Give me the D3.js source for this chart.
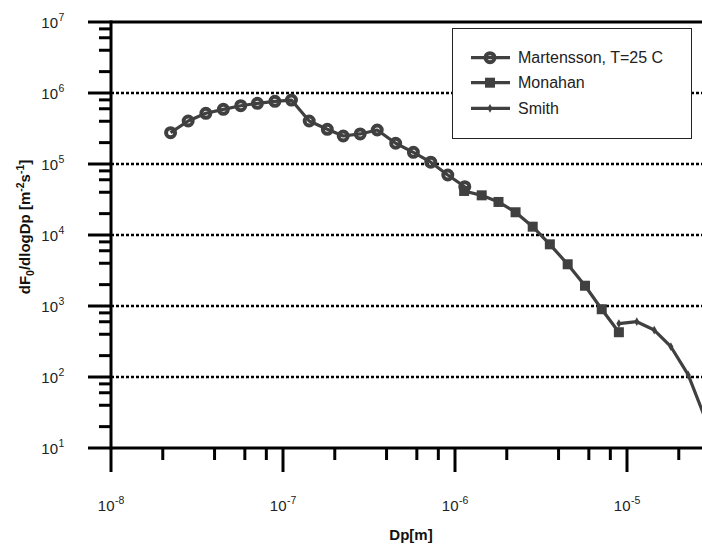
<!DOCTYPE html>
<html>
<head>
<meta charset="utf-8">
<script src="https://cdn.jsdelivr.net/npm/d3@7"></script>
<style>
  html, body { margin: 0; padding: 0; background: #fff; }
  svg { display: block; font-family: "Liberation Sans", Arial, sans-serif; }
</style>
</head>
<body>
<div id="chart"></div>
<script>
// Data
const martenssonDp = [2.22e-8, 2.81e-8, 3.56e-8, 4.50e-8, 5.68e-8, 7.10e-8, 8.97e-8, 1.12e-7, 1.42e-7,
  1.81e-7, 2.24e-7, 2.81e-7, 3.53e-7, 4.52e-7, 5.73e-7, 7.23e-7, 9.08e-7, 1.14e-6];
const martenssonF = [2.76e5, 4.03e5, 5.18e5, 5.89e5, 6.62e5, 7.16e5, 7.64e5, 7.96e5, 4.03e5,
  3.08e5, 2.48e5, 2.65e5, 3.01e5, 1.96e5, 1.46e5, 1.06e5, 7.0e4, 4.79e4];

const monahanDp = [1.13e-6, 1.43e-6, 1.79e-6, 2.25e-6, 2.83e-6, 3.56e-6, 4.52e-6, 5.70e-6, 7.13e-6, 8.97e-6];
const monahanF = [4.17e4, 3.62e4, 2.92e4, 2.09e4, 1.31e4, 7.39e3, 3.87e3, 1.93e3, 9.0e2, 4.27e2];

const smithDp = [8.97e-6, 1.14e-5, 1.44e-5, 1.80e-5, 2.27e-5, 2.86e-5];
const smithF = [565, 601, 459, 267, 107, 25.6];

const seriesNames = ["Martensson, T=25 C", "Monahan", "Smith"];

const xMajor = [1e-8, 1e-7, 1e-6, 1e-5, 1e-4];
const xLabelled = [1e-8, 1e-7, 1e-6, 1e-5];
const xMajorExp = ["-8", "-7", "-6", "-5"];
const yMajor = [1e1, 1e2, 1e3, 1e4, 1e5, 1e6, 1e7];
const yMajorExp = ["1", "2", "3", "4", "5", "6", "7"];
const minorMult = [2, 4, 6, 8];
const gridValues = [1e2, 1e3, 1e4, 1e5, 1e6];

const width = 702, height = 546;
const plotLeft = 111, plotTop = 22, plotBottom = 448;
const ink = "#404040";

const x = d3.scaleLog().domain([1e-8, 1e-4]).range([plotLeft, plotLeft + 172 * 4]);
const y = d3.scaleLog().domain([10, 1e7]).range([plotBottom, plotTop]);

const svg = d3.select("#chart").append("svg")
  .attr("width", width)
  .attr("height", height);

// Dotted grid lines
svg.append("g")
  .selectAll("line")
  .data(gridValues)
  .join("line")
  .attr("x1", plotLeft).attr("x2", width)
  .attr("y1", d => y(d)).attr("y2", d => y(d))
  .attr("stroke", "#000")
  .attr("stroke-width", 2.5)
  .attr("stroke-dasharray", "3,2");

// Minor ticks
const xMinor = [];
xMajor.slice(0, -1).forEach(v => minorMult.forEach(m => xMinor.push(v * m)));
const yMinor = [];
yMajor.slice(0, -1).forEach(v => minorMult.forEach(m => yMinor.push(v * m)));

const axes = svg.append("g").attr("stroke", "#000").attr("stroke-width", 3);

axes.selectAll(".xmin").data(xMinor).join("line")
  .attr("x1", d => x(d)).attr("x2", d => x(d))
  .attr("y1", plotBottom).attr("y2", plotBottom + 12);
axes.selectAll(".xmaj").data(xMajor).join("line")
  .attr("x1", d => x(d)).attr("x2", d => x(d))
  .attr("y1", plotBottom).attr("y2", plotBottom + 24);
axes.selectAll(".ymin").data(yMinor).join("line")
  .attr("x1", plotLeft - 12).attr("x2", plotLeft)
  .attr("y1", d => y(d)).attr("y2", d => y(d));
axes.selectAll(".ymaj").data(yMajor).join("line")
  .attr("x1", plotLeft - 23).attr("x2", plotLeft)
  .attr("y1", d => y(d)).attr("y2", d => y(d));

// Frame: left, bottom, top
axes.append("line").attr("x1", plotLeft).attr("x2", plotLeft).attr("y1", plotTop - 1.5).attr("y2", plotBottom + 1.5);
axes.append("line").attr("x1", plotLeft).attr("x2", width).attr("y1", plotBottom).attr("y2", plotBottom);
axes.append("line").attr("x1", plotLeft).attr("x2", width).attr("y1", plotTop).attr("y2", plotTop);

// Tick labels
const lab = svg.append("g").attr("fill", "#222").attr("font-size", 15);

yMajor.forEach((v, i) => {
  lab.append("text")
    .attr("x", 58).attr("y", y(v) + 5.5)
    .attr("text-anchor", "end")
    .text("10");
  lab.append("text")
    .attr("x", 58.5).attr("y", y(v) - 1.5)
    .attr("font-size", 10.5)
    .text(yMajorExp[i]);
});

xLabelled.forEach((v, i) => {
  lab.append("text")
    .attr("x", x(v) + 3.5).attr("y", 511)
    .attr("text-anchor", "end")
    .text("10");
  lab.append("text")
    .attr("x", x(v) + 4).attr("y", 504)
    .attr("font-size", 10.5)
    .text(xMajorExp[i]);
});

// Axis titles
svg.append("text")
  .attr("x", 411).attr("y", 540)
  .attr("text-anchor", "middle")
  .attr("font-size", 15).attr("font-weight", "bold")
  .attr("fill", "#111")
  .text("Dp[m]");

const yt = svg.append("text")
  .attr("transform", "translate(30,227) rotate(-90)")
  .attr("text-anchor", "middle")
  .attr("font-size", 15).attr("font-weight", "bold")
  .attr("fill", "#111");
yt.append("tspan").text("dF");
yt.append("tspan").attr("font-size", 10.5).attr("dy", 4).text("0");
yt.append("tspan").attr("dy", -4).text("/dlogDp [m");
yt.append("tspan").attr("font-size", 10.5).attr("dy", -6).text("-2");
yt.append("tspan").attr("dy", 6).text("s");
yt.append("tspan").attr("font-size", 10.5).attr("dy", -6).text("-1");
yt.append("tspan").attr("dy", 6).text("]");

// Series
const line = d3.line().x(d => x(d[0])).y(d => y(d[1]));
const zipPts = (a, b) => a.map((v, i) => [v, b[i]]);

const mart = zipPts(martenssonDp, martenssonF);
const mona = zipPts(monahanDp, monahanF);
const smit = zipPts(smithDp, smithF);

const plot = svg.append("g");

function drawCircles(g, pts) {
  g.selectAll(null).data(pts).join("circle")
    .attr("cx", d => x(d[0])).attr("cy", d => y(d[1]))
    .attr("r", 4.5)
    .attr("fill", "none")
    .attr("stroke", ink)
    .attr("stroke-width", 4);
}
function drawSquares(g, pts) {
  g.selectAll(null).data(pts).join("rect")
    .attr("x", d => x(d[0]) - 5).attr("y", d => y(d[1]) - 5)
    .attr("width", 10).attr("height", 10)
    .attr("fill", ink);
}
function drawCrosses(g, pts) {
  g.selectAll(null).data(pts).join("path")
    .attr("transform", d => `translate(${x(d[0])},${y(d[1])})`)
    .attr("d", d3.symbol(d3.symbolDiamond, 22))
    .attr("fill", ink);
}

[mart, mona, smit].forEach(pts => {
  plot.append("path")
    .datum(pts)
    .attr("d", line)
    .attr("fill", "none")
    .attr("stroke", ink)
    .attr("stroke-width", 3.2)
    .attr("stroke-linejoin", "round");
});
drawSquares(plot.append("g"), mona);
drawCrosses(plot.append("g"), smit);
drawCircles(plot.append("g"), mart);

// Legend
const lg = svg.append("g");
lg.append("rect")
  .attr("x", 452.5).attr("y", 28.5)
  .attr("width", 239).attr("height", 110)
  .attr("fill", "#fff")
  .attr("stroke", "#222")
  .attr("stroke-width", 1);

const rowsY = [57.7, 82.7, 108.3];
const markers = [
  g => g.append("circle").attr("cx", 490).attr("r", 4.5).attr("fill", "none").attr("stroke", ink).attr("stroke-width", 4),
  g => g.append("rect").attr("x", 485).attr("y", -5).attr("width", 10).attr("height", 10).attr("fill", ink),
  g => g.append("path").attr("transform", "translate(490,0)").attr("d", d3.symbol(d3.symbolDiamond, 22)).attr("fill", ink)
];
seriesNames.forEach((name, i) => {
  const row = lg.append("g").attr("transform", `translate(0,${rowsY[i]})`);
  row.append("line").attr("x1", 471).attr("x2", 510)
    .attr("stroke", ink).attr("stroke-width", 3.2);
  markers[i](row);
  row.append("text")
    .attr("x", 518).attr("y", 5.5)
    .attr("font-size", 16).attr("fill", "#222")
    .text(name);
});
</script>
</body>
</html>
